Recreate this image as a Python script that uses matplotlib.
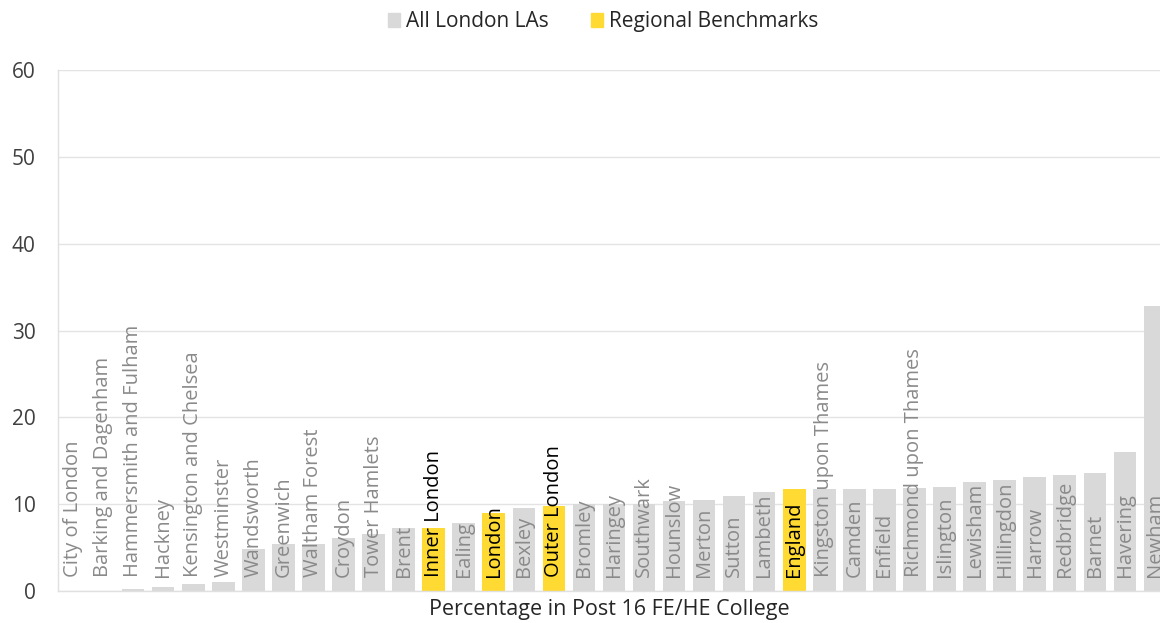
import matplotlib
matplotlib.use("Agg")
import matplotlib.pyplot as plt
from matplotlib.patches import Patch

# data
areas = ["City of London", "Barking and Dagenham", "Hammersmith and Fulham", "Hackney",
         "Kensington and Chelsea", "Westminster", "Wandsworth", "Greenwich", "Waltham Forest",
         "Croydon", "Tower Hamlets", "Brent", "Inner London", "Ealing", "London", "Bexley",
         "Outer London", "Bromley", "Haringey", "Southwark", "Hounslow", "Merton", "Sutton",
         "Lambeth", "England", "Kingston upon Thames", "Camden", "Enfield", "Richmond upon Thames",
         "Islington", "Lewisham", "Hillingdon", "Harrow", "Redbridge", "Barnet", "Havering", "Newham"]
values = [0.0, 0.0, 0.2, 0.5, 0.75, 1.05, 4.8, 5.4, 5.45, 6.1, 6.6, 7.2, 7.3, 7.8, 8.95, 9.6,
          9.75, 10.0, 10.0, 10.0, 10.35, 10.45, 10.9, 11.45, 11.7, 11.7, 11.7, 11.7, 11.85,
          12.0, 12.55, 12.75, 13.15, 13.3, 13.6, 16.0, 32.8]
benchmarks = ["Inner London", "London", "Outer London", "England"]

GREY = "#d9d9d9"
YELLOW = "#ffda33"

plt.rcParams['font.family'] = ['Open Sans', 'DejaVu Sans']

fig = plt.figure(figsize=(11.6, 6.23), dpi=100)
ax = fig.add_axes([0.05, 0.0514, 0.95, 0.8362])

x = list(range(len(areas)))
colors = [YELLOW if a in benchmarks else GREY for a in areas]
ax.bar(x, values, width=0.75, color=colors, zorder=2)

for i, a in enumerate(areas):
    is_bm = a in benchmarks
    ax.text(i, 1.6, a, rotation=90, ha="center", va="bottom", fontsize=14.5,
            color="#000000" if is_bm else "#8a8a8a", zorder=3)

ax.set_ylim(0, 60)
ax.set_yticks(range(0, 61, 10))
ax.set_xlim(-0.5, 36.17)
ax.set_xticks([])
ax.grid(axis="y", color="#e3e3e3", linewidth=1, zorder=0)
ax.tick_params(axis="y", length=0, labelsize=15, labelcolor="#404040", pad=16)
for s in ["top", "right"]:
    ax.spines[s].set_visible(False)
for s in ["left", "bottom"]:
    ax.spines[s].set_color("#e0e0e0")
    ax.spines[s].set_linewidth(1)

ax.set_xlabel("Percentage in Post 16 FE/HE College", fontsize=15.5, color="#262626", labelpad=6)

handles = [Patch(color=GREY, label="All London LAs"),
           Patch(color=YELLOW, label="Regional Benchmarks")]
fig.legend(handles=handles, loc="upper center", bbox_to_anchor=(0.52, 1.012), ncol=2,
           frameon=False, fontsize=15, handlelength=0.6, handleheight=0.6,
           handletextpad=0.3, columnspacing=2.0, labelcolor="#262626")

fig.savefig("out.png", dpi=100)
